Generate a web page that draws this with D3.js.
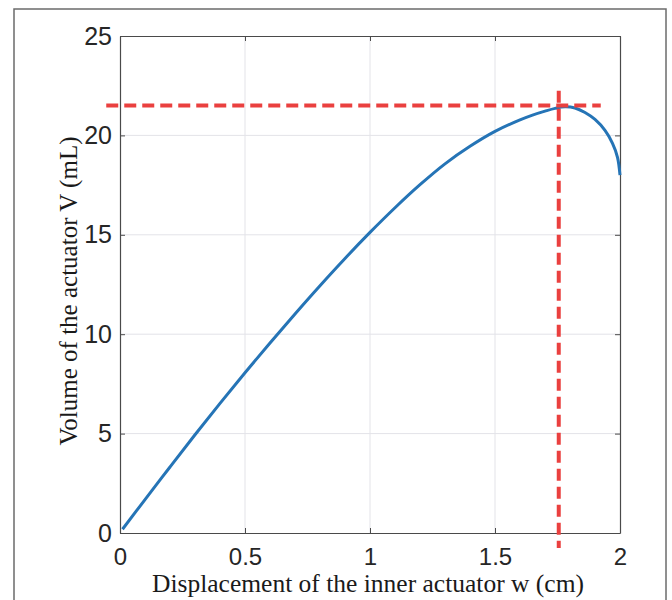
<!DOCTYPE html>
<html>
<head>
<meta charset="utf-8">
<script src="https://cdn.jsdelivr.net/npm/d3@7"></script>
<style>
  body { margin: 0; background: #fff; }
  .tick text { font-family: "Liberation Sans", Arial, sans-serif; fill: #262626; }
</style>
</head>
<body>
<div id="chart"></div>
<script>

// displacement w (cm) and volume V (mL)
var w_vals = [0.01, 0.1, 0.2, 0.3, 0.4, 0.5, 0.6, 0.7, 0.8, 0.9, 1.0, 1.1, 1.2, 1.3, 1.4, 1.5, 1.6, 1.65, 1.7, 1.74, 1.78, 1.82, 1.86, 1.9, 1.94, 1.97, 1.99, 2.0];
var v_vals = [0.19, 1.68, 3.32, 4.94, 6.52, 8.06, 9.56, 11.02, 12.44, 13.81, 15.12, 16.36, 17.52, 18.57, 19.45, 20.2, 20.78, 21.02, 21.22, 21.36, 21.44, 21.38, 21.15, 20.8, 20.25, 19.6, 18.9, 18.0];

var xTicks = [0, 0.5, 1, 1.5, 2];
var yTicks = [0, 5, 10, 15, 20, 25];
var xTickLabels = ["0", "0.5", "1", "1.5", "2"];

// optimum marker (red dashed lines)
var w_opt = 1.755;
var v_opt = 21.5;
var hLineRange = [-0.055, 1.923];   // w extent of horizontal guide
var vLineRange = [-0.75, 22.25];    // V extent of vertical guide

var W = 672, H = 600;
var margin = {top: 36, right: 52, bottom: 67, left: 120};
var width = W - margin.left - margin.right,
    height = H - margin.top - margin.bottom;

var svg = d3.select("#chart").append("svg")
  .attr("width", W)
  .attr("height", H);

// outer frame of the figure
svg.append("rect")
  .attr("x", 14).attr("y", 9)
  .attr("width", 652).attr("height", 610)
  .attr("fill", "none")
  .attr("stroke", "#6b6b6b")
  .attr("stroke-width", 1.5);

var g = svg.append("g")
  .attr("transform", "translate(" + margin.left + "," + margin.top + ")");

var x = d3.scaleLinear().domain([0, 2]).range([0, width]);
var y = d3.scaleLinear().domain([0, 25]).range([height, 0]);

// grid
g.append("g").selectAll("line")
  .data(xTicks.slice(1, -1))
  .enter().append("line")
    .attr("x1", function(d) { return x(d); })
    .attr("x2", function(d) { return x(d); })
    .attr("y1", 0).attr("y2", height)
    .attr("stroke", "#e3e3e8").attr("stroke-width", 1);

g.append("g").selectAll("line")
  .data(yTicks.slice(1, -1))
  .enter().append("line")
    .attr("y1", function(d) { return y(d); })
    .attr("y2", function(d) { return y(d); })
    .attr("x1", 0).attr("x2", width)
    .attr("stroke", "#e3e3e8").attr("stroke-width", 1);

// axes with inward ticks (box on)
var axisColor = "#4a4a4a";

var xAxis = g.append("g")
  .attr("transform", "translate(0," + height + ")")
  .call(d3.axisBottom(x).tickValues(xTicks)
    .tickFormat(function(d, i) { return xTickLabels[i]; })
    .tickSizeInner(-5).tickSizeOuter(0).tickPadding(15));
xAxis.selectAll("text").style("font-size", "24px");

var yAxis = g.append("g")
  .call(d3.axisLeft(y).tickValues(yTicks)
    .tickSizeInner(-5).tickSizeOuter(0).tickPadding(8));
yAxis.selectAll("text").style("font-size", "25px");

g.append("g")
  .call(d3.axisTop(x).tickValues(xTicks).tickFormat("")
    .tickSizeInner(-5).tickSizeOuter(0));

g.append("g")
  .attr("transform", "translate(" + width + ",0)")
  .call(d3.axisRight(y).tickValues(yTicks).tickFormat("")
    .tickSizeInner(-5).tickSizeOuter(0));

g.selectAll(".domain").attr("stroke", axisColor).attr("stroke-width", 1.2);
g.selectAll(".tick line").attr("stroke", axisColor);

// volume curve
var pts = w_vals.map(function(w, i) { return [w, v_vals[i]]; });

var line = d3.line()
  .x(function(d) { return x(d[0]); })
  .y(function(d) { return y(d[1]); })
  .curve(d3.curveCatmullRom.alpha(0.5));

g.append("path")
  .datum(pts)
  .attr("fill", "none")
  .attr("stroke", "#2574b6")
  .attr("stroke-width", 3)
  .attr("d", line);

// red dashed guides
var red = "#ea403f";
g.append("line")
  .attr("x1", x(hLineRange[0])).attr("x2", x(hLineRange[1]))
  .attr("y1", y(v_opt)).attr("y2", y(v_opt))
  .attr("stroke", red).attr("stroke-width", 4)
  .attr("stroke-dasharray", "12,6");

g.append("line")
  .attr("x1", x(w_opt)).attr("x2", x(w_opt))
  .attr("y1", y(vLineRange[1])).attr("y2", y(vLineRange[0]))
  .attr("stroke", red).attr("stroke-width", 4)
  .attr("stroke-dasharray", "12,6");

// axis titles
svg.append("text")
  .attr("x", margin.left + width / 2 - 2)
  .attr("y", 592)
  .attr("text-anchor", "middle")
  .style("font-family", "'Liberation Serif', 'Times New Roman', serif")
  .style("font-size", "25.5px")
  .style("fill", "#1a1a1a")
  .text("Displacement of the inner actuator w (cm)");

svg.append("text")
  .attr("transform", "translate(77," + 291 + ") rotate(-90)")
  .attr("text-anchor", "middle")
  .style("font-family", "'Liberation Serif', 'Times New Roman', serif")
  .style("font-size", "25px")
  .style("fill", "#1a1a1a")
  .text("Volume of the actuator V (mL)");

</script>
</body>
</html>
